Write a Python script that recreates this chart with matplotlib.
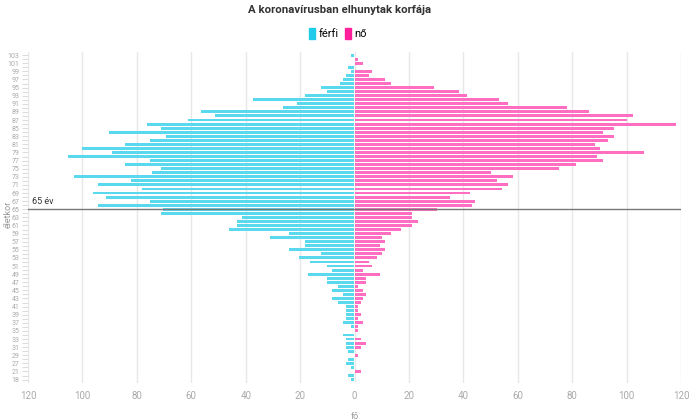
import matplotlib.pyplot as plt
from matplotlib.patches import Patch

ages = list(range(103, 26, -1)) + [24, 21, 20, 18]

ferfi = [1, 0, 0, 2, 1, 3, 4, 5, 12, 10, 18, 37, 21, 26, 56, 51, 61, 76, 71, 90,
         69, 75, 84, 100, 89, 105, 75, 84, 71, 74, 103, 82, 94, 78, 96, 91, 75, 94,
         70, 71, 41, 43, 43, 46, 24, 31, 18, 18, 24, 12, 20, 16, 10, 8, 17, 10, 10,
         6, 8, 4, 8, 6, 3, 3, 3, 3, 4, 1, 0, 4, 3, 3, 3, 2, 0, 2, 3,
         1, 0, 2, 1]

no = [0, 1, 3, 0, 6, 5, 11, 13, 29, 38, 41, 53, 56, 78, 86, 102, 100, 118, 95, 91,
      95, 93, 88, 90, 106, 89, 91, 81, 75, 50, 58, 52, 56, 54, 42, 35, 44, 43,
      30, 21, 21, 23, 21, 17, 13, 10, 11, 9, 11, 10, 8, 5, 6, 3, 9, 4, 4,
      1, 3, 4, 3, 2, 1, 1, 2, 1, 3, 1, 1, 0, 2, 4, 2, 0, 1, 0, 0,
      0, 2, 0, 0]

cian = '#5ad8ee'
rozsa = '#ff6ec0'
keskeny = ['Liberation Sans Narrow', 'Roboto', 'DejaVu Sans']

n = len(ages)
pos = [n - 1 - i for i in range(n)]

fig = plt.figure(figsize=(7, 4.2), dpi=100)
ax = fig.add_axes([0.04, 0.089, 0.933, 0.787])

ax.barh(pos, [-v for v in ferfi], height=0.72, left=-0.25, color=cian, zorder=2)
ax.barh(pos, no, height=0.72, left=0.25, color=rozsa, zorder=2)

ax.set_xlim(-120, 120)
ax.set_ylim(-0.75, n - 0.25)
ticks = list(range(-120, 121, 20))
ax.set_xticks(ticks)
ax.set_xticklabels([str(abs(t)) for t in ticks], color='#aaaaaa', fontsize=7, family='Roboto')
ax.grid(axis='x', color='#e8e8e8', lw=1, zorder=0)
ax.tick_params(axis='x', length=0, pad=6)

ax.set_yticks(pos)
ax.set_yticklabels([str(a) if i % 2 == 0 else '' for i, a in enumerate(ages)],
                   fontsize=5, color='#aaaaaa', family='Roboto')
ax.tick_params(axis='y', length=4, color='#dddddd', width=0.8, pad=2)

for s in ax.spines.values():
    s.set_visible(False)

i65 = pos[ages.index(65)]
ax.axhline(i65, color='#777777', lw=1, zorder=3)
ax.text(-118.5, i65 + 0.9, '65 év', fontsize=6.5, color='#333333', family='Roboto', va='bottom')

ax.set_xlabel('fő', fontsize=6.5, color='#999999', family='Roboto', labelpad=8)
fig.text(0.011, 0.49, 'életkor', rotation=90, fontsize=6.5, color='#999999',
         family='Roboto', va='center', ha='center')

fig.suptitle('A koronavírusban elhunytak korfája', x=0.485, y=0.987, fontsize=8.2,
             fontweight='bold', family='Roboto', color='#333333')

handles = [Patch(color='#1fcbe8', label='férfi'), Patch(color='#ff1f9a', label='nő')]
fig.legend(handles=handles, loc='center', bbox_to_anchor=(0.483, 0.92), ncol=2,
           frameon=False, prop={'family': keskeny, 'size': 8},
           handlelength=0.55, handleheight=1.1, handletextpad=0.3, columnspacing=0.6)

fig.savefig('out.png', dpi=100)
